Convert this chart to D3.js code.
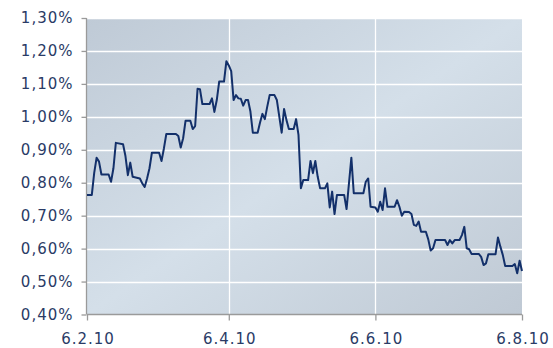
<!DOCTYPE html>
<html><head><meta charset="utf-8">
<script src="https://cdn.jsdelivr.net/npm/d3@7"></script>
<style>html,body{margin:0;padding:0;background:#fff;}svg{display:block;}</style>
</head><body>
<svg id="chart" width="553" height="348"></svg>
<script>
const dates = ["2010-02-06","2010-02-08","2010-02-09","2010-02-10","2010-02-11","2010-02-12","2010-02-15","2010-02-16","2010-02-17","2010-02-18","2010-02-21","2010-02-22","2010-02-23","2010-02-24","2010-02-25","2010-02-28","2010-03-01","2010-03-02","2010-03-03","2010-03-04","2010-03-05","2010-03-08","2010-03-09","2010-03-10","2010-03-11","2010-03-15","2010-03-16","2010-03-17","2010-03-18","2010-03-19","2010-03-21","2010-03-22","2010-03-23","2010-03-24","2010-03-25","2010-03-26","2010-03-29","2010-03-30","2010-03-31","2010-04-01","2010-04-02","2010-04-04","2010-04-05","2010-04-06","2010-04-07","2010-04-08","2010-04-09","2010-04-10","2010-04-11","2010-04-12","2010-04-13","2010-04-14","2010-04-15","2010-04-16","2010-04-18","2010-04-19","2010-04-20","2010-04-21","2010-04-22","2010-04-23","2010-04-25","2010-04-26","2010-04-28","2010-04-29","2010-04-30","2010-05-01","2010-05-03","2010-05-04","2010-05-05","2010-05-06","2010-05-07","2010-05-09","2010-05-10","2010-05-11","2010-05-12","2010-05-13","2010-05-14","2010-05-16","2010-05-17","2010-05-18","2010-05-19","2010-05-20","2010-05-21","2010-05-24","2010-05-25","2010-05-26","2010-05-27","2010-05-28","2010-06-01","2010-06-02","2010-06-03","2010-06-04","2010-06-06","2010-06-07","2010-06-08","2010-06-09","2010-06-10","2010-06-11","2010-06-14","2010-06-15","2010-06-16","2010-06-17","2010-06-18","2010-06-20","2010-06-21","2010-06-22","2010-06-23","2010-06-24","2010-06-25","2010-06-27","2010-06-28","2010-06-29","2010-06-30","2010-07-01","2010-07-05","2010-07-06","2010-07-07","2010-07-08","2010-07-09","2010-07-11","2010-07-12","2010-07-13","2010-07-14","2010-07-15","2010-07-16","2010-07-19","2010-07-20","2010-07-21","2010-07-22","2010-07-23","2010-07-26","2010-07-27","2010-07-28","2010-07-29","2010-07-30","2010-08-02","2010-08-03","2010-08-04","2010-08-05","2010-08-06"];
const values = [0.763,0.763,0.830,0.876,0.864,0.825,0.825,0.803,0.844,0.921,0.917,0.881,0.823,0.861,0.818,0.813,0.798,0.787,0.813,0.844,0.891,0.891,0.866,0.904,0.948,0.948,0.942,0.907,0.935,0.988,0.988,0.963,0.972,1.085,1.084,1.039,1.039,1.056,1.015,1.051,1.107,1.107,1.169,1.156,1.139,1.051,1.066,1.056,1.055,1.034,1.051,1.051,1.016,0.952,0.952,0.983,1.009,0.993,1.031,1.066,1.066,1.051,0.952,1.024,0.990,0.963,0.963,0.993,0.945,0.783,0.808,0.808,0.866,0.829,0.866,0.818,0.783,0.783,0.798,0.725,0.773,0.705,0.763,0.763,0.720,0.798,0.876,0.768,0.768,0.803,0.813,0.727,0.725,0.712,0.742,0.717,0.783,0.727,0.727,0.747,0.727,0.700,0.712,0.711,0.705,0.672,0.669,0.682,0.651,0.651,0.628,0.594,0.601,0.626,0.626,0.611,0.626,0.616,0.626,0.626,0.641,0.666,0.601,0.598,0.584,0.584,0.575,0.550,0.555,0.583,0.583,0.634,0.606,0.581,0.547,0.547,0.553,0.525,0.563,0.532,0.505];
const yTicks = [0.40,0.50,0.60,0.70,0.80,0.90,1.00,1.10,1.20,1.30];
const xTicks = ["2010-02-06","2010-04-06","2010-06-06","2010-08-06"];

const parse = d3.timeParse("%Y-%m-%d");
const data = dates.map((d,i)=>({date: parse(d), value: values[i]}));

const svg = d3.select("#chart");
const mLeft = 87, mRight = 522, mTop = 18, mBottom = 314.5;

const x = d3.scaleTime().domain([parse(xTicks[0]), parse(xTicks[xTicks.length-1])]).range([mLeft, mRight]);
const y = d3.scaleLinear().domain([0.40, 1.30]).range([mBottom, mTop]);

const defs = svg.append("defs");
const grad = defs.append("linearGradient").attr("id","bg").attr("x1","0%").attr("y1","0%").attr("x2","100%").attr("y2","100%");
grad.append("stop").attr("offset","0%").attr("stop-color","#bfcad6");
grad.append("stop").attr("offset","50%").attr("stop-color","#d4dfe9");
grad.append("stop").attr("offset","100%").attr("stop-color","#bfc9d4");

svg.append("rect").attr("x",mLeft).attr("y",mTop).attr("width",mRight-mLeft).attr("height",mBottom-mTop).attr("fill","url(#bg)");

svg.append("g").selectAll("line").data(yTicks.slice(1)).join("line")
  .attr("x1",mLeft).attr("x2",mRight)
  .attr("y1",d=>Math.round(y(d))+0.5).attr("y2",d=>Math.round(y(d))+0.5)
  .attr("stroke","#ffffff").attr("stroke-width",1.3);
svg.append("g").selectAll("line").data(xTicks.slice(1,-1)).join("line")
  .attr("x1",d=>Math.round(x(parse(d)))+0.5).attr("x2",d=>Math.round(x(parse(d)))+0.5)
  .attr("y1",mTop).attr("y2",mBottom)
  .attr("stroke","#ffffff").attr("stroke-width",1.3);

const fmtPct = d => d3.format(".2f")(d).replace(".", ",") + "%";
const fmtDate = d => `${d.getDate()}.${d.getMonth()+1}.${String(d.getFullYear()).slice(2)}`;

const yAxis = d3.axisLeft(y).tickValues(yTicks).tickFormat(fmtPct).tickSize(5).tickPadding(8);
const gy = svg.append("g").attr("transform",`translate(${mLeft-0.5},0)`).call(yAxis);
const xAxis = d3.axisBottom(x).tickValues(xTicks.map(parse)).tickFormat(fmtDate).tickSize(6).tickPadding(13);
const gx = svg.append("g").attr("transform",`translate(0,${mBottom})`).call(xAxis);

[gx, gy].forEach(g=>{
  g.select(".domain").attr("stroke","#9a9a9a").attr("stroke-width",1.3);
  g.selectAll(".tick line").attr("stroke","#9a9a9a").attr("stroke-width",1.3);
  g.selectAll("text").attr("fill","#2a3b66").style("font-family","'DejaVu Sans', sans-serif").style("font-size","15px").style("letter-spacing","1px");
});
gx.selectAll("text").attr("dx","0.5");
gx.select(".domain").attr("d",`M${mLeft},0H${mRight}`);
gy.select(".domain").attr("d",`M0,${mTop}V${mBottom}`);

const line = d3.line().x(d=>x(d.date)).y(d=>y(d.value));
svg.append("path").datum(data).attr("d",line)
  .attr("fill","none").attr("stroke","#13306a").attr("stroke-width",2).attr("stroke-linejoin","round");
</script>
</body></html>
